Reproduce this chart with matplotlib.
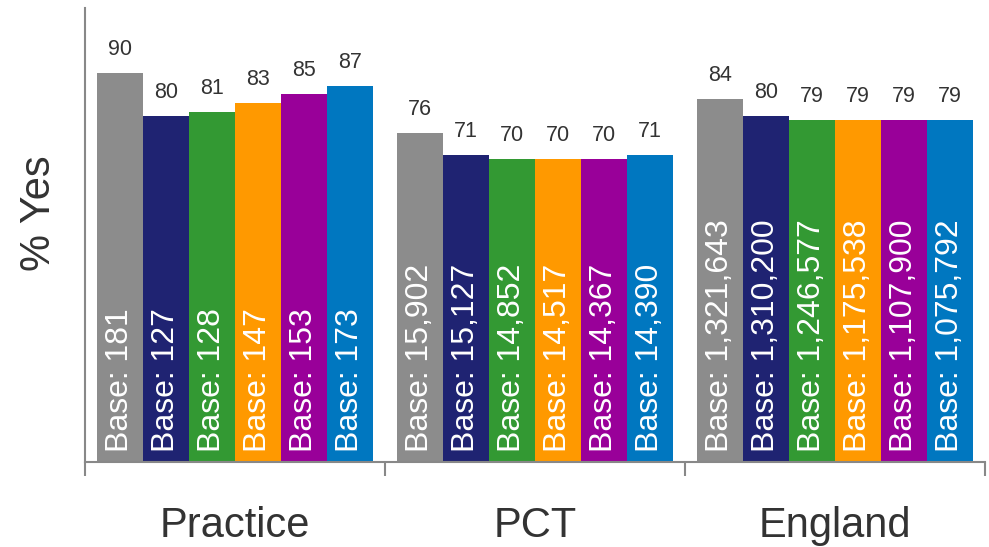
import matplotlib
matplotlib.use("Agg")
import matplotlib.pyplot as plt
import numpy as np

plt.rcParams['font.family'] = ['Liberation Sans', 'DejaVu Sans']

groups = ["Practice", "PCT", "England"]
colors = ["#8C8C8C", "#1F2372", "#339933", "#FF9900", "#990099", "#0077C0"]
practice_vals = [90, 80, 81, 83, 85, 87]
pct_vals = [76, 71, 70, 70, 70, 71]
england_vals = [84, 80, 79, 79, 79, 79]
practice_base = ["181", "127", "128", "147", "153", "173"]
pct_base = ["15,902", "15,127", "14,852", "14,517", "14,367", "14,390"]
england_base = ["1,321,643", "1,310,200", "1,246,577", "1,175,538", "1,107,900", "1,075,792"]

values = [practice_vals, pct_vals, england_vals]
bases = [practice_base, pct_base, england_base]

fig = plt.figure(figsize=(9.89, 5.47), dpi=100)
ax = fig.add_axes([85/989, 1-462/547, 900/989, 454/547])

n = 6
bw = 0.92 / n
for g in range(3):
    for i in range(n):
        x = g + 0.04 + bw * (i + 0.5)
        v = values[g][i]
        ax.bar(x, v, width=bw, color=colors[i], linewidth=0)
        ax.annotate(str(v), (x, v), xytext=(0, 9.5), textcoords="offset points",
                    ha="center", va="bottom", fontsize=15.5, color="#333333")
        ax.text(x, 2.4, "Base: " + bases[g][i], rotation=90, ha="center", va="bottom",
                fontsize=23, color="white")

ax.set_xlim(0, 3)
ax.set_ylim(0, 105)
ax.set_yticks([])
ax.set_xticks([0, 1, 2, 3])
ax.set_xticklabels([])
ax.set_xticks([0.5, 1.5, 2.5], minor=True)
ax.set_xticklabels(groups, minor=True, fontsize=30, color="#333333")
ax.tick_params(axis="x", which="major", length=10, width=1.5, color="#888888", direction="out")
ax.tick_params(axis="x", which="minor", length=0, pad=32)
for s in ["top", "right"]:
    ax.spines[s].set_visible(False)
for s in ["left", "bottom"]:
    ax.spines[s].set_color("#888888")
    ax.spines[s].set_linewidth(1.5)
ax.set_ylabel("% Yes", fontsize=30, color="#333333")
ax.yaxis.set_label_coords(-0.029, 0.548)

fig.savefig("out.png", dpi=100)
